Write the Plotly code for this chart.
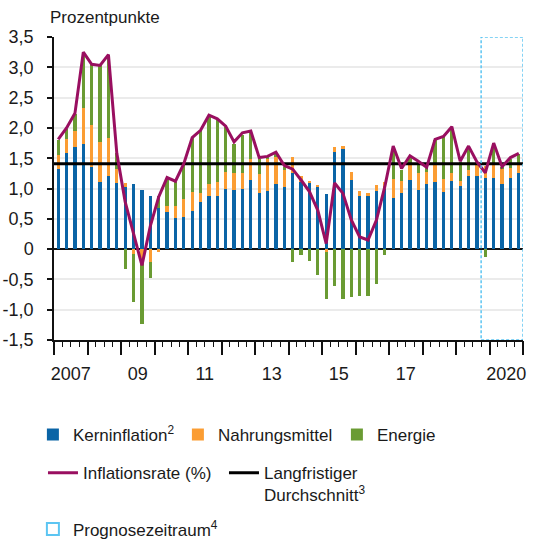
import plotly.graph_objects as go

# ---------------- data ----------------
years = list(range(2007, 2021))
quarters = [f"{y}Q{q}" for y in years for q in range(1, 5)]

kerninflation = [
    1.32, 1.58, 1.68, 1.73,
    1.36, 1.10, 1.20, 1.09,
    1.03, 1.07, 0.97, 0.87,
    0.68, 0.61, 0.52, 0.53,
    0.63, 0.77, 0.88, 0.88,
    0.99, 0.98, 0.99, 1.14,
    0.92, 0.96, 1.07, 1.03,
    1.26, 1.10, 1.09, 1.04,
    0.91, 1.60, 1.65, 1.14,
    0.88, 0.88, 0.96, 1.00,
    0.85, 0.93, 1.14, 0.97,
    1.07, 1.10, 0.95, 1.13,
    1.04, 1.21, 1.21, 1.17,
    1.17, 1.07, 1.18, 1.26,
]
nahrungsmittel = [
    0.23, 0.23, 0.27, 0.60,
    0.68, 0.66, 0.63, 0.23,
    0.06, -0.08, -0.18, -0.22,
    -0.04, 0.10, 0.19, 0.29,
    0.31, 0.16, 0.20, 0.22,
    0.28, 0.28, 0.27, 0.34,
    0.32, 0.53, 0.45, 0.28,
    0.26, 0.11, 0.04, 0.01,
    -0.04, 0.09, 0.05, 0.13,
    0.08, 0.04, 0.09, 0.11,
    0.30, 0.19, 0.24, 0.29,
    0.21, 0.31, 0.21, 0.12,
    0.08, 0.09, 0.17, 0.20,
    0.24, 0.26, 0.16, 0.12,
]
energie = [
    0.25, 0.17, 0.28, 0.91,
    1.01, 1.27, 1.38, 0.26,
    -0.33, -0.79, -1.05, -0.25,
    0.20, 0.44, 0.40, 0.59,
    0.90, 1.02, 1.12, 1.04,
    0.75, 0.48, 0.63, 0.45,
    0.25, 0.04, 0.05, 0.05,
    -0.22, -0.09, -0.20, -0.42,
    -0.78, -0.61, -0.82, -0.79,
    -0.77, -0.77, -0.57, -0.09,
    0.52, 0.18, 0.14, 0.18,
    0.06, 0.39, 0.69, 0.76,
    0.32, 0.39, 0.06, -0.13,
    0.34, 0.03, 0.15, 0.19,
]
inflationsrate = [
    1.81, 2.00, 2.24, 3.25,
    3.05, 3.03, 3.21, 1.58,
    0.78, 0.24, -0.27, 0.38,
    0.86, 1.18, 1.12, 1.41,
    1.84, 1.96, 2.21, 2.15,
    2.03, 1.77, 1.92, 1.95,
    1.51, 1.53, 1.60, 1.38,
    1.32, 1.14, 0.95, 0.64,
    0.09, 1.09, 0.92, 0.48,
    0.20, 0.15, 0.48, 1.03,
    1.70, 1.33, 1.54, 1.45,
    1.35, 1.81, 1.86, 2.02,
    1.45, 1.70, 1.44, 1.26,
    1.75, 1.36, 1.51, 1.58,
]
langfristiger_durchschnitt = 1.41
prognose_start = "2019Q4"

x_tick_labels = ["2007", "09", "11", "13", "15", "17", "2020"]
x_tick_years = [2007, 2009, 2011, 2013, 2015, 2017, 2020]
y_tick_values = [-1.5, -1.0, -0.5, 0, 0.5, 1.0, 1.5, 2.0, 2.5, 3.0, 3.5]
y_tick_labels = ["-1,5", "-1,0", "-0,5", "0", "0,5", "1,0", "1,5", "2,0", "2,5", "3,0", "3,5"]


def qpos(label):
    y, q = label.split("Q")
    return int(y) + (int(q) - 0.5) / 4


x = [qpos(q) for q in quarters]
x_start, x_end = years[0], years[-1] + 1
prog_x0 = qpos(prognose_start) - 0.125

# ---------------- style ----------------
FONT = "Liberation Sans, Arial, sans-serif"
C_BLUE = "#0a64a6"
C_ORANGE = "#fb9d33"
C_GREEN = "#6a9b33"
C_PURPLE = "#990f60"
C_FORE = "#5cc5f2"
BW = 0.10

fig = go.Figure()
fig.add_trace(go.Bar(x=x, y=kerninflation, name="Kerninflation<sup>2</sup>",
                     marker=dict(color=C_BLUE, line_width=0), width=BW,
                     legend="legend", legendwidth=100))
fig.add_trace(go.Bar(x=x, y=nahrungsmittel, name="Nahrungsmittel",
                     marker=dict(color=C_ORANGE, line_width=0), width=BW,
                     legend="legend", legendwidth=114))
fig.add_trace(go.Bar(x=x, y=energie, name="Energie",
                     marker=dict(color=C_GREEN, line_width=0), width=BW,
                     legend="legend"))
fig.add_trace(go.Scatter(x=[x_start, x_end],
                         y=[langfristiger_durchschnitt, langfristiger_durchschnitt],
                         mode="lines", line=dict(color="black", width=3),
                         name="Langfristiger<br>Durchschnitt<sup>3</sup>",
                         legend="legend2", legendrank=2))
fig.add_trace(go.Scatter(x=x, y=inflationsrate, mode="lines",
                         line=dict(color=C_PURPLE, width=3),
                         name="Inflationsrate (%)", legend="legend2",
                         legendrank=1, legendwidth=136))
fig.add_trace(go.Scatter(x=[None], y=[None], mode="markers", xaxis="x2",
                         marker=dict(symbol="square-open", size=12, color=C_FORE,
                                     line=dict(width=2, color=C_FORE)),
                         name="Prognosezeitraum<sup>4</sup>", legend="legend3"))

# forecast period box
fig.add_shape(type="rect", xref="x", yref="y", x0=prog_x0, x1=x_end,
              y0=y_tick_values[0], y1=y_tick_values[-1],
              line=dict(color=C_FORE, width=1.5, dash="3px,2px"),
              fillcolor="rgba(0,0,0,0)", layer="above")

fig.add_annotation(text="Prozentpunkte", xref="paper", yref="paper",
                   x=-0.0135, y=1.066, xanchor="left", yanchor="middle",
                   showarrow=False, font=dict(size=17, color="#1a1a1a", family=FONT))

legend_common = dict(orientation="h", xanchor="left", yanchor="top",
                     bgcolor="rgba(0,0,0,0)", font=dict(size=17, color="#1a1a1a", family=FONT),
                     valign="top", traceorder="normal")

fig.update_layout(
    width=535, height=543,
    margin=dict(l=54, r=12, t=37, b=203, autoexpand=False),
    paper_bgcolor="white", plot_bgcolor="white",
    font=dict(family=FONT, size=18, color="#1a1a1a"),
    barmode="relative",
    bargap=0,
    legend=dict(x=-0.045, y=-0.254, **legend_common),
    legend2=dict(x=-0.0235, y=-0.380, **legend_common),
    legend3=dict(x=-0.045, y=-0.566, **legend_common),
    xaxis=dict(range=[x_start, x_end], tickmode="array",
               tickvals=[yy + 0.5 for yy in x_tick_years], ticktext=x_tick_labels,
               ticks="outside", ticklen=17, tickcolor="rgba(0,0,0,0)",
               showgrid=False, zeroline=False,
               showline=True, linecolor="#111", linewidth=1.5,
               tickfont=dict(size=18, family=FONT, color="#1a1a1a"),
               minor=dict(tickmode="linear", tick0=x_start, dtick=0.25, ticks="outside",
                          ticklen=5, tickcolor="#111", tickwidth=1.2, showgrid=False)),
    xaxis2=dict(range=[x_start, x_end], overlaying="x", anchor="y", side="bottom",
                tickmode="array", tickvals=list(range(x_start, x_end + 1)),
                ticks="outside", ticklen=14, tickcolor="#111", tickwidth=1.5,
                showticklabels=False, showgrid=False, zeroline=False, showline=False),
    yaxis=dict(range=[y_tick_values[0], y_tick_values[-1]], tickmode="array",
               tickvals=y_tick_values, ticktext=y_tick_labels,
               ticks="outside", ticklen=5, tickcolor="#111", tickwidth=1.5,
               showline=True, linecolor="#111", linewidth=1.5,
               showgrid=True, gridcolor="#ebebeb", gridwidth=2,
               zeroline=True, zerolinecolor="#111", zerolinewidth=1.5,
               ticklabelstandoff=10,
               tickfont=dict(size=18, family=FONT, color="#1a1a1a")),
)

fig.write_html("out.html", config={"displayModeBar": False},
               post_script="document.body.style.margin='0';document.body.style.padding='0';")
